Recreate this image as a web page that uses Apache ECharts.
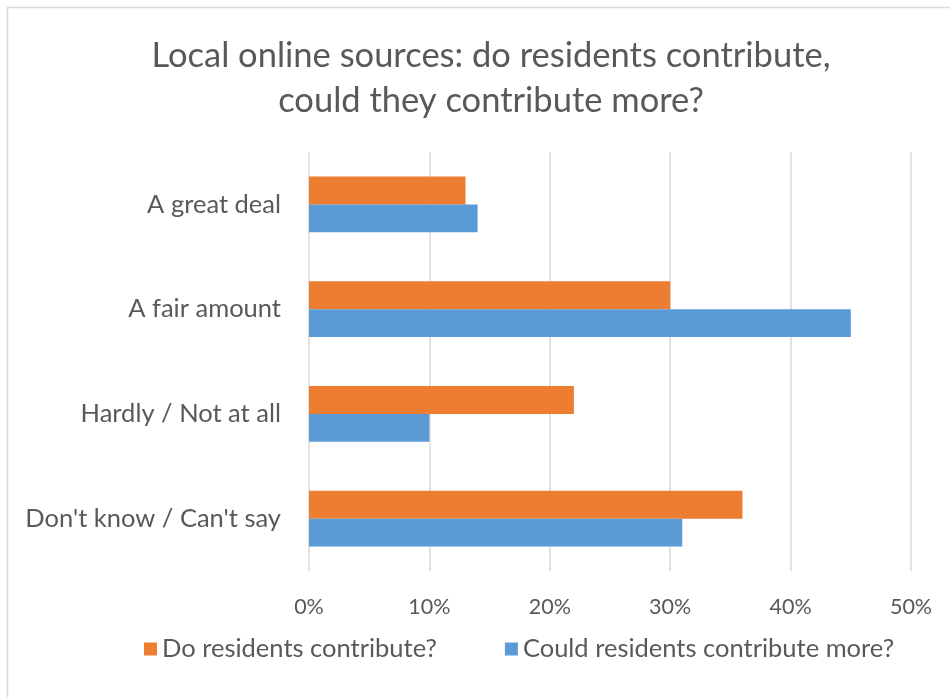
<!DOCTYPE html>
<html>
<head>
<meta charset="utf-8">
<script src="https://cdn.jsdelivr.net/npm/echarts@6/dist/echarts.min.js"></script>
<style>
  html, body { margin: 0; padding: 0; background: #ffffff; }
  #chart { width: 950px; height: 697px; }
</style>
</head>
<body>
<div id="chart"></div>
<script>
// Survey answers, top to bottom
const categories = ['A great deal', 'A fair amount', 'Hardly / Not at all', "Don't know / Can't say"];
const seriesNames = ['Do residents contribute?', 'Could residents contribute more?'];
// Share of respondents, percent
const doContribute = [13, 30, 22, 36];
const couldContributeMore = [14, 45, 10, 31];
const tickValues = [0, 10, 20, 30, 40, 50];

const FONT = 'Lato';
const TEXT = '#595959';
const GRID = '#d9d9d9';

const chart = echarts.init(document.getElementById('chart'), null, { renderer: 'canvas' });

chart.setOption({
  backgroundColor: '#ffffff',
  animation: false,
  graphic: [{
    type: 'rect',
    shape: { x: 7.5, y: 7.5, width: 1000, height: 1000 },
    style: { fill: 'none', stroke: GRID, lineWidth: 1.5 },
    silent: true
  }],
  title: {
    text: 'Local online sources: do residents contribute,\ncould they contribute more?',
    left: 486,
    top: 28,
    textAlign: 'center',
    textStyle: {
      fontFamily: FONT,
      fontSize: 34.5,
      fontWeight: 'normal',
      color: TEXT,
      lineHeight: 45
    }
  },
  legend: {
    data: seriesNames,
    left: 139,
    top: 631,
    itemWidth: 13,
    itemHeight: 13,
    itemGap: 68,
    icon: 'rect',
    textStyle: { fontFamily: FONT, fontSize: 25.5, color: TEXT }
  },
  grid: { left: 309, right: 39, top: 152, bottom: 126, containLabel: false },
  xAxis: {
    type: 'value',
    min: tickValues[0],
    max: tickValues[tickValues.length - 1],
    interval: 10,
    axisLine: { show: false },
    axisTick: { show: false },
    splitLine: { show: true, lineStyle: { color: GRID, width: 1.5 } },
    axisLabel: {
      formatter: v => v + '%',
      fontFamily: FONT,
      fontSize: 21.5,
      color: TEXT,
      margin: 25
    }
  },
  yAxis: {
    type: 'category',
    data: categories,
    inverse: true,
    axisLine: { show: false },
    axisTick: { show: false },
    axisLabel: {
      fontFamily: FONT,
      fontSize: 25.5,
      color: TEXT,
      margin: 28,
      padding: [4, 0, 0, 0]
    }
  },
  series: [
    {
      name: seriesNames[0],
      type: 'bar',
      data: doContribute,
      itemStyle: { color: '#ED7D31' },
      barGap: '0%',
      barCategoryGap: '47%'
    },
    {
      name: seriesNames[1],
      type: 'bar',
      data: couldContributeMore,
      itemStyle: { color: '#5B9BD5' },
      barGap: '0%',
      barCategoryGap: '47%'
    }
  ]
});
</script>
</body>
</html>
